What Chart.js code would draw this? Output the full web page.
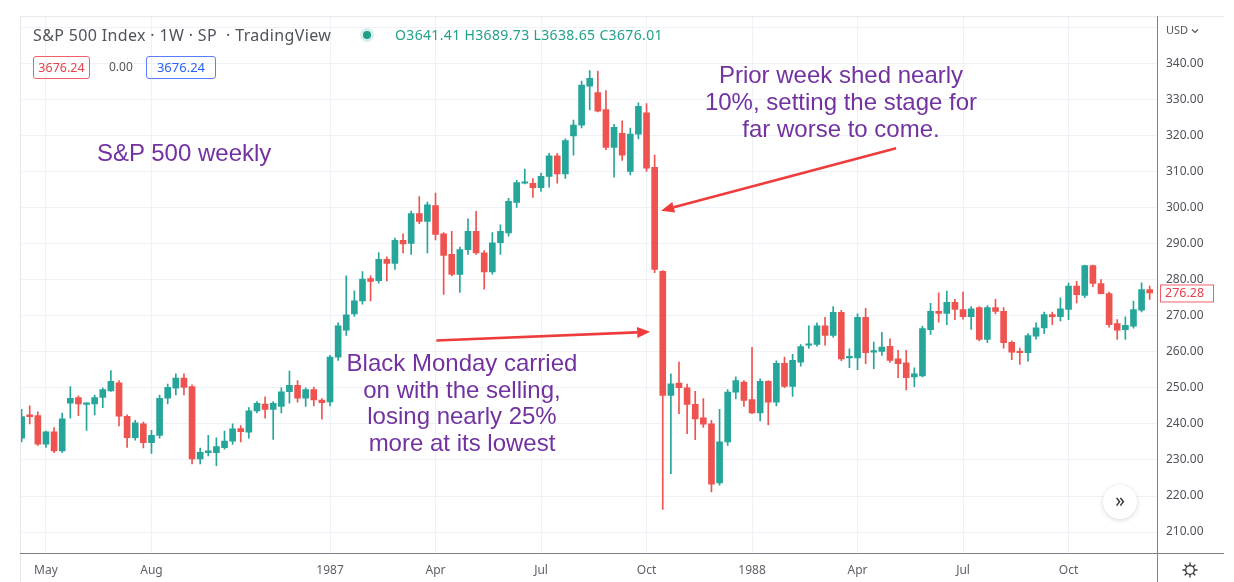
<!DOCTYPE html>
<html>
<head>
<meta charset="utf-8">
<script src="https://cdn.jsdelivr.net/npm/chart.js@4.4.0/dist/chart.umd.min.js"></script>
<style>
  html, body { margin: 0; padding: 0; background: #fff; }
  #wrap { position: relative; width: 1234px; height: 582px; overflow: hidden; font-family: "Noto Sans", sans-serif; }
  #chart { position: absolute; left: 0; top: 0; }
  .abs { position: absolute; white-space: nowrap; }
  .note { position: absolute; color: #7232a0; font-family: "Liberation Sans", Arial, sans-serif; font-size: 24px; line-height: 27px; text-align: center; white-space: nowrap; width: 400px; }
  .title { left: 33px; top: 24px; font-size: 16px; letter-spacing: 0.35px; line-height: 22px; color: #50535c; }
  .dot { left: 363px; top: 31px; width: 8px; height: 8px; border-radius: 50%; background: #1f9e8a; box-shadow: 0 0 0 3px rgba(38,166,154,0.18); }
  .ohlc { left: 395px; top: 25px; font-size: 14px; letter-spacing: 0.35px; line-height: 20px; color: #22a08c; }
  .box { position: absolute; border-radius: 3px; font-size: 12.5px; text-align: center; box-sizing: border-box; }
  .usd { left: 1166px; top: 22px; font-size: 11px; line-height: 16px; color: #555; }
  .more { left: 1103px; top: 485px; width: 34px; height: 34px; border-radius: 50%; background: #fff; box-shadow: 0 1px 5px rgba(0,0,0,0.16); text-align: center; line-height: 31px; font-size: 19px; color: #333; }
</style>
</head>
<body>
<div id="wrap">
  <canvas id="chart" width="1234" height="582"></canvas>

  <div class="abs title">S&amp;P 500 Index · 1W · SP &nbsp;· TradingView</div>
  <div class="abs dot"></div>
  <div class="abs ohlc">O3641.41 H3689.73 L3638.65 C3676.01</div>
  <div class="box" style="left:33px;top:56px;width:57px;height:23px;line-height:21px;border:1px solid #f0606a;color:#e8414c;">3676.24</div>
  <div class="abs" style="left:109px;top:59px;font-size:12px;line-height:16px;color:#555;">0.00</div>
  <div class="box" style="left:146px;top:56px;width:70px;height:23px;line-height:21px;border:1px solid #5a7dff;color:#2962ff;font-size:13px;">3676.24</div>

  <div class="abs usd">USD <svg width="8" height="6" style="vertical-align:middle"><polyline points="1,1.5 4,4.5 7,1.5" fill="none" stroke="#555" stroke-width="1.2"/></svg></div>
  <div class="abs more">»</div>
  <svg class="abs" style="left:1181px;top:561px" width="18" height="18" viewBox="0 0 18 18">
    <g fill="none" stroke="#333" stroke-width="1.3">
      <circle cx="9" cy="9" r="4.3"/>
      <path d="M9 1.5v3M9 13.5v3M1.5 9h3M13.5 9h3M3.7 3.7l2.1 2.1M12.2 12.2l2.1 2.1M3.7 14.3l2.1-2.1M12.2 5.8l2.1-2.1"/>
    </g>
  </svg>

  <div class="note" style="top:139px;width:200px;left:97px;text-align:left;">S&amp;P 500 weekly</div>
  <div class="note" style="left:641px;top:61px;">Prior week shed nearly<br>10%, setting the stage for<br>far worse to come.</div>
  <div class="note" style="left:262px;top:350px;line-height:26.7px;">Black Monday carried<br>on with the selling,<br>losing nearly 25%<br>more at its lowest</div>
</div>

<script>
// weekly candles, first bar = week of 14 Apr 1986
const opens = [
  236, 242.5, 242.3, 234.4, 237.8, 232.5, 245.7, 247.3, 245.4, 245.5,
  247.3, 249.1, 251.4, 242.1, 236.2, 240, 234.8, 236.8, 247.1, 249.9,
  252.7, 250.3, 230.3, 232, 232, 233.4, 235.2, 238.7, 237.7, 243.6,
  245.5, 244, 244.8, 248.9, 250.7, 247.1, 249.5, 246.6, 246.1, 258.5,
  266, 270.5, 274.1, 280.3, 279.7, 285.6, 284.5, 290.9, 290, 298.3,
  296.1, 300.5, 292.7, 287, 281.4, 288.3, 293.4, 287.4, 282.1, 290.2,
  292.9, 301.4, 306.7, 306.7, 305.5, 308.6, 314.3, 309.3, 319.8, 322.8,
  333.6, 331.8, 327.1, 316.6, 320.5, 310, 320.3, 326.2, 311.1, 282.3,
  247.9, 251.3, 250, 245.4, 241.7, 240, 223.6, 235, 248.8, 251.6,
  246.7, 243, 251.8, 246, 256.8, 250.4, 257.1, 261.8, 262, 267.2,
  264.5, 270.9, 258.3, 258.3, 269.5, 259.9, 260.1, 261.5, 258, 256.9,
  253, 253.3, 266.1, 271.2, 270.6, 273.7, 271.7, 269.7, 272.2, 263.4,
  272.2, 271.2, 262.6, 260.1, 259.7, 264.3, 266.6, 270.3, 269.7, 271.7,
  278.2, 275.6, 283.9, 278.9, 276.1, 267.8, 266.1, 267.1, 271.5, 277.2
];
const highs = [
  244, 245, 243.3, 238, 239, 243, 250.3, 247.8, 245.8, 248,
  250, 254.8, 252, 242.5, 241, 240.5, 238.2, 248, 251, 253.9,
  253.9, 250.8, 233.3, 236.8, 236.1, 238, 240, 239.5, 244.5, 246.2,
  247.5, 246.2, 250, 254.6, 252, 250, 250.2, 247, 259, 268,
  281, 276.9, 282.2, 281, 287.5, 286.3, 291.5, 292.7, 299, 303,
  301.5, 304, 293, 293.4, 289, 296.8, 298.9, 288, 293, 295.2,
  302.5, 307.5, 310.6, 308, 309.5, 315, 315, 319, 324.2, 335,
  337.9, 337.8, 332.4, 323, 324, 322, 329, 328.8, 314.5, 282.5,
  253.9, 257.1, 251, 249, 247, 241, 244, 249.5, 253, 252,
  261.2, 252.5, 252, 257.5, 258.5, 259.3, 262, 267.2, 268, 269.5,
  272.5, 271.5, 260.8, 270.5, 272, 262.7, 265.4, 263.6, 260.4, 260.4,
  255.5, 267, 273.4, 276.3, 276.8, 274.5, 276.5, 272.5, 272.5, 272.8,
  274.5, 272.2, 263, 261, 265, 268, 271, 271, 274.9, 279,
  279.5, 284, 284, 280, 276.5, 268.9, 269.7, 274, 279.1, 278.2
];
const lows = [
  235, 240, 234, 233.5, 232, 232, 241.6, 242.3, 238.2, 242.5,
  244.5, 249, 239.4, 233.5, 235.5, 233.3, 231.8, 236, 245.5, 248,
  248, 228.9, 228.9, 231.1, 228.4, 233, 234.3, 235, 236, 243,
  241.6, 235.7, 243, 245.7, 246, 244.8, 245, 241.3, 245, 257.6,
  264.5, 269.8, 273.2, 274.1, 279, 279.6, 282.8, 287.4, 287, 295.5,
  287.4, 291, 275.9, 281, 276.4, 287, 287, 277.3, 281.5, 287,
  292, 300, 306.5, 302.8, 304.4, 305.6, 306.7, 308, 314.5, 322,
  327, 326.5, 316, 308.4, 313, 309, 319, 310, 281.9, 216.3,
  226.2, 242.8, 237.3, 235.6, 239, 221.1, 223, 234, 246.9, 244.8,
  242.8, 240.8, 239.7, 245, 250, 247.6, 256, 261, 261.5, 261.8,
  264, 257.5, 255.6, 255, 256.7, 255.3, 259, 257, 252.8, 249.4,
  250.3, 253, 264.8, 268.2, 267.5, 268.9, 269, 266.2, 263, 262.5,
  270.5, 261, 257.8, 256.5, 257.4, 263.5, 265, 267.5, 268.5, 268.9,
  273.5, 275, 278, 276, 266.8, 263.4, 263.4, 266.5, 271, 274.5
];
const closes = [
  242, 242, 234.4, 237.8, 232.5, 241.4, 247.1, 245.5, 245.6, 247.3,
  249.5, 251.8, 242.1, 236.2, 240.3, 234.8, 236.8, 247.1, 250.1, 252.7,
  250.1, 230.3, 232.1, 232.5, 233.7, 235.2, 238.6, 237.8, 243.6, 245.7,
  244, 245.7, 248.9, 250.7, 247.1, 249.5, 246.6, 245.9, 258.5, 267.2,
  270.2, 274.1, 280.1, 279.5, 285.6, 284.5, 290.9, 289.9, 298.3, 296.1,
  300.7, 292.5, 286.7, 281.4, 288.3, 293.4, 287.4, 282.1, 290.2, 293.4,
  301.7, 306.9, 307, 305.5, 308.6, 314.3, 309.3, 318.5, 322.8, 333.9,
  335.8, 326.7, 316.6, 322.2, 314.5, 320.3, 328, 310.9, 282.8, 247.9,
  251.1, 250, 245.4, 241.4, 239.9, 223.3, 235, 248.8, 252, 246.5,
  243, 251.8, 246, 256.8, 250.4, 257.6, 261.4, 262.2, 267.2, 264.5,
  270.9, 258, 258.7, 269.5, 259.7, 260.2, 261.3, 257.6, 256.7, 252.8,
  253.9, 266.4, 271.2, 270.6, 273.7, 271.7, 269.7, 271.9, 263.4, 272.2,
  271.2, 262.5, 259.9, 259.7, 264.5, 266.6, 270.3, 269.7, 271.9, 278.2,
  275.8, 283.9, 278.9, 276.1, 267.5, 266, 267.3, 271.7, 277.2, 276.28
];

// time axis labels sit on the first weekly bar of each quarter
const tickIdx = [3, 16, 38, 51, 64, 77, 90, 103, 116, 129];
const tickNames = ["May", "Aug", "1987", "Apr", "Jul", "Oct", "1988", "Apr", "Jul", "Oct"];
const priceTicks = [210, 220, 230, 240, 250, 260, 270, 280, 290, 300, 310, 320, 330, 340, 350];

// annotation arrows, [bar index, price]
const arrowNotes = [
  { from: [107.75, 316.4], to: [78.8, 299.1] },
  { from: [51.1, 263.1], to: [77.45, 265.5] }
];

const upColor = "#26a69a";
const downColor = "#ef5350";
const gridColor = "#eef1f5";
const candleColors = opens.map((o, i) => (closes[i] >= o ? upColor : downColor));

const drawArrow = (ctx, x1, y1, x2, y2) => {
  const ang = Math.atan2(y2 - y1, x2 - x1);
  const len = 13, half = 5.5;
  const bx = x2 - len * Math.cos(ang), by = y2 - len * Math.sin(ang);
  ctx.beginPath();
  ctx.moveTo(x1, y1);
  ctx.lineTo(bx, by);
  ctx.stroke();
  ctx.beginPath();
  ctx.moveTo(x2, y2);
  ctx.lineTo(bx + half * Math.sin(ang), by - half * Math.cos(ang));
  ctx.lineTo(bx - half * Math.sin(ang), by + half * Math.cos(ang));
  ctx.closePath();
  ctx.fill();
};

const framePlugin = {
  id: "frame",
  afterDatasetsDraw: (chart) => {
    const { ctx, scales } = chart;
    ctx.save();
    ctx.strokeStyle = "#ee3c3c";
    ctx.fillStyle = "#ee3c3c";
    ctx.lineWidth = 2.6;
    arrowNotes.forEach((a) => {
      drawArrow(ctx,
        scales.x.getPixelForValue(a.from[0]), scales.y.getPixelForValue(a.from[1]),
        scales.x.getPixelForValue(a.to[0]), scales.y.getPixelForValue(a.to[1]));
    });
    ctx.restore();
  },
  afterDraw: (chart) => {
    const { ctx, chartArea: a, scales } = chart;
    ctx.save();
    ctx.lineWidth = 1;
    ctx.strokeStyle = "#e4e7ed";
    ctx.beginPath();
    ctx.moveTo(a.left, a.top + 0.5);
    ctx.lineTo(1224, a.top + 0.5);
    ctx.moveTo(a.left + 0.5, a.top);
    ctx.lineTo(a.left + 0.5, chart.height);
    ctx.stroke();
    ctx.strokeStyle = "#7d8088";
    ctx.beginPath();
    ctx.moveTo(a.left, a.bottom + 0.5);
    ctx.lineTo(1224, a.bottom + 0.5);
    ctx.moveTo(a.right + 0.5, a.top);
    ctx.lineTo(a.right + 0.5, chart.height);
    ctx.stroke();

    // last price tag
    const last = closes[closes.length - 1];
    const py = scales.y.getPixelForValue(last);
    ctx.fillStyle = "#fff";
    ctx.fillRect(a.right + 3, py - 8.5, 53, 17);
    ctx.strokeStyle = "#f0606a";
    ctx.strokeRect(a.right + 3.5, py - 8, 53, 17);
    ctx.fillStyle = "#e8414c";
    ctx.font = "12.5px 'Noto Sans', sans-serif";
    ctx.textBaseline = "middle";
    ctx.fillText(last.toFixed(2), a.right + 8, py + 0.5);
    ctx.restore();
  }
};

const ctx = document.getElementById("chart").getContext("2d");
const chart = new Chart(ctx, {
  type: "bar",
  data: {
    datasets: [
      {
        label: "wick",
        data: opens.map((o, i) => ({ x: i, y: [lows[i], highs[i]] })),
        backgroundColor: candleColors,
        barThickness: 1,
        grouped: false,
        order: 2
      },
      {
        label: "body",
        data: opens.map((o, i) => ({ x: i, y: [o, closes[i]] })),
        backgroundColor: candleColors,
        barThickness: 6,
        minBarLength: 1.5,
        grouped: false,
        order: 1
      }
    ]
  },
  options: {
    responsive: false,
    animation: false,
    layout: { padding: { left: 20, top: 15, right: 0, bottom: 0 } },
    plugins: {
      legend: { display: false },
      tooltip: { enabled: false }
    },
    scales: {
      x: {
        type: "linear",
        offset: false,
        min: -0.2,
        max: 139.9,
        afterBuildTicks: (axis) => {
          axis.ticks = tickIdx.map((v) => ({ value: v }));
        },
        afterFit: (axis) => {
          axis.height = 29;
        },
        grid: { color: gridColor, drawTicks: false, offset: false },
        border: { display: false },
        ticks: {
          autoSkip: false,
          maxRotation: 0,
          padding: 10,
          color: "#5d6068",
          font: { family: "'Noto Sans', sans-serif", size: 12 },
          callback: (v) => tickNames[tickIdx.indexOf(v)]
        }
      },
      y: {
        position: "right",
        min: 204.2,
        max: 353,
        afterBuildTicks: (axis) => {
          axis.ticks = priceTicks.map((v) => ({ value: v }));
        },
        afterFit: (axis) => {
          axis.width = 77;
        },
        grid: { color: gridColor, drawTicks: false },
        border: { display: false },
        ticks: {
          padding: 9,
          color: "#4f525a",
          font: { family: "'Noto Sans', sans-serif", size: 12 },
          callback: (v) => (v > 345 ? "" : v.toFixed(2))
        }
      }
    }
  },
  plugins: [framePlugin]
});
</script>
</body>
</html>
